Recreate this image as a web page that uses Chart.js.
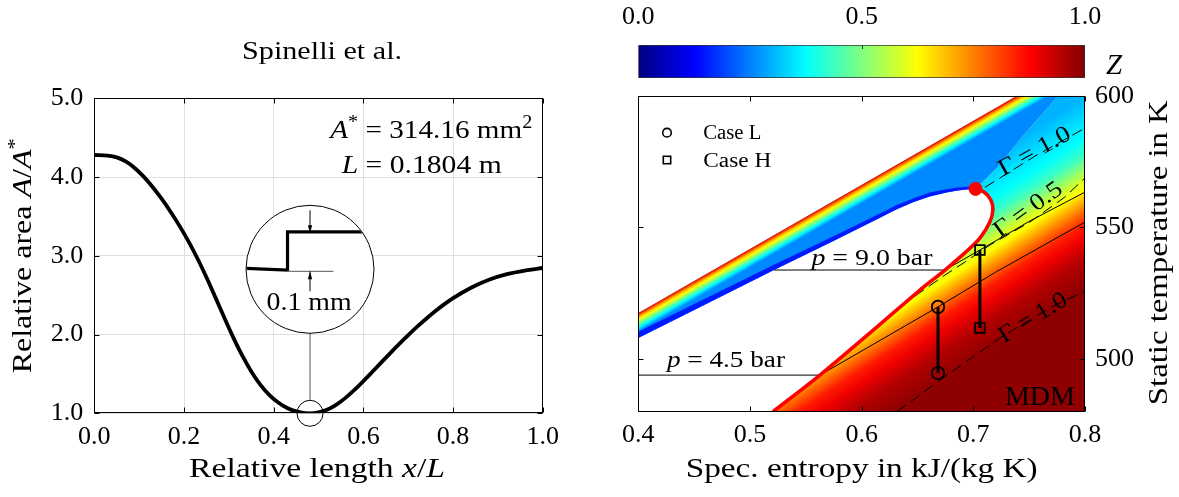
<!DOCTYPE html>
<html>
<head>
<meta charset="utf-8">
<script src="https://cdn.jsdelivr.net/npm/chart.js@4.4.1/dist/chart.umd.min.js"></script>
<style>
  html, body { margin: 0; padding: 0; background: #fff; }
  #wrap { position: relative; width: 1179px; height: 497px; overflow: hidden; }
  canvas { position: absolute; top: 0; }
  #nozzle { left: 0; }
  #ts, #cbar { left: 590px; }
</style>
</head>
<body>
<div id="wrap">
  <canvas id="nozzle" width="590" height="497"></canvas>
  <canvas id="ts" width="589" height="497"></canvas>
  <canvas id="cbar" width="589" height="90"></canvas>
</div>
<script>
/* ── Left panel: nozzle area ratio ── */
const lengthRatio = [0, 0.03, 0.05, 0.07, 0.09, 0.11, 0.13, 0.15, 0.17, 0.19, 0.21, 0.23, 0.25, 0.27,
  0.29, 0.31, 0.33, 0.35, 0.37, 0.39, 0.41, 0.43, 0.45, 0.47, 0.48, 0.50, 0.52, 0.54, 0.56, 0.58,
  0.60, 0.62, 0.64, 0.66, 0.68, 0.70, 0.72, 0.74, 0.76, 0.78, 0.80, 0.84, 0.88, 0.92, 0.96, 1.0];
const areaRatio = [4.28, 4.273, 4.25, 4.198, 4.115, 4.005, 3.874, 3.725, 3.56, 3.38, 3.183, 2.966, 2.728, 2.472,
  2.212, 1.961, 1.731, 1.532, 1.365, 1.234, 1.136, 1.067, 1.024, 1.002, 1.0, 1.012, 1.048, 1.111, 1.196, 1.297,
  1.409, 1.527, 1.647, 1.765, 1.881, 1.993, 2.1, 2.201, 2.296, 2.383, 2.462, 2.595, 2.696, 2.767, 2.813, 2.845];
const lengthTicks = [0, 0.2, 0.4, 0.6, 0.8, 1.0];
const areaTicks = [1, 2, 3, 4, 5];
const throatPoint = [0.481, 1.0];

/* ── Right panel: T-s diagram of MDM ── */
const entropyRange = [0.4, 0.8];
const tempRange = [480, 600];
const entropyTicks = [0.4, 0.5, 0.6, 0.7, 0.8];
const tempTicks = [500, 550, 600];
const zTicks = [0, 0.5, 1];
const zRange = [0, 1];

const satLiqS = [0.4, 0.455, 0.5215, 0.572, 0.616, 0.631, 0.646, 0.661, 0.676, 0.686, 0.694, 0.702];
const satLiqT = [508.0, 519.7, 533.8, 544.3, 553.6, 556.8, 559.5, 561.7, 563.2, 564.0, 564.4, 564.6];
const liqEdgeS = [0.702, 0.694, 0.686, 0.676, 0.661, 0.646, 0.631, 0.616, 0.572, 0.5215, 0.455, 0.4];
const liqEdgeT = [565.4, 565.4, 565.1, 564.5, 563.2, 561.0, 558.4, 555.2, 546.1, 535.8, 521.9, 510.4];
const satVapS = [0.5206, 0.5627, 0.6146, 0.6522, 0.6746, 0.6924, 0.7059, 0.7148, 0.7175, 0.7157, 0.7095, 0.702];
const satVapT = [480, 493.9, 512.5, 526.2, 533.8, 540.3, 545.9, 552.0, 556.6, 560.4, 563.4, 564.6];
const critPoint = [0.702, 564.6];
const ridgeS = [0.702, 0.722, 0.745, 0.770, 0.776];
const ridgeT = [564.6, 573.0, 585.0, 597.0, 600.0];
const boundS = [0.4, 0.739];
const boundT = [517.5, 600];

const iso90S = [0.5215, 0.6746, 0.7059, 0.7506, 0.8];
const iso90T = [533.8, 533.8, 541.4, 552.4, 563.4];
const iso45S = [0.4, 0.5627, 0.6684, 0.72, 0.8];
const iso45T = [493.9, 493.9, 519.8, 533.0, 552.0];

const gam10aS = [0.7104, 0.755, 0.8];
const gam10aT = [565.2, 577.0, 587.7];
const gam05S = [0.6477, 0.6746, 0.6924, 0.7148, 0.7506, 0.7819, 0.8];
const gam05T = [523.9, 531.9, 536.8, 543.3, 552.0, 561.5, 568.8];
const gam10bS = [0.6316, 0.6764, 0.7238, 0.7685, 0.8];
const gam10bT = [480, 493.9, 508.0, 519.4, 525.8];

const caseLS = [0.6684, 0.6684];
const caseLT = [519.8, 494.7];
const caseHS = [0.7059, 0.7059];
const caseHT = [541.4, 511.8];

// Z levels read along the right edge (s = 0.8) and along the left edge (s = 0.4)
const vapourZ = [0.30, 0.35, 0.375, 0.43, 0.5, 0.58, 0.625, 0.70, 0.78, 0.85, 0.89, 0.95, 0.985];
const vapourEdgeT = [600, 590, 584, 578, 573.5, 568.5, 564.5, 560.5, 555.5, 551, 546, 538, 527];
const liquidZ = [0.93, 0.8, 0.7, 0.625, 0.5, 0.375, 0.26];
const liquidEdgeT = [517.5, 516.7, 515.9, 515.0, 513.5, 512.0, 510.4];

/* ── helpers ── */
const FONT = '"Liberation Serif", "Times New Roman", serif';
Chart.defaults.font.family = FONT;
Chart.defaults.color = '#000';

function jet(z) {
  const c = v => Math.max(0, Math.min(1, v));
  const r = c(Math.min(4 * z - 1.5, -4 * z + 4.5));
  const g = c(Math.min(4 * z - 0.5, -4 * z + 3.5));
  const b = c(Math.min(4 * z + 0.5, -4 * z + 2.5));
  return `rgb(${Math.round(r * 255)},${Math.round(g * 255)},${Math.round(b * 255)})`;
}

const pts = (s, t) => s.map((v, i) => ({ x: v, y: t[i] }));

// parts: [text, flags]  flags: i = italic, s = superscript
function label(ctx, parts, x, y, o = {}) {
  const size = o.size || 26;
  const font = p => `${p[1].includes('i') ? 'italic ' : ''}${p[1].includes('s') ? Math.round(size * 0.7) : size}px ${FONT}`;
  ctx.save();
  ctx.translate(x, y);
  if (o.rot) ctx.rotate(o.rot);
  let w = 0;
  parts.forEach(p => { ctx.font = font(p); w += ctx.measureText(p[0]).width; });
  if (o.width) ctx.scale(o.width / w, 1);
  let cx = o.align === 'left' ? 0 : o.align === 'right' ? -w : -w / 2;
  ctx.textAlign = 'left';
  ctx.textBaseline = o.baseline || 'alphabetic';
  ctx.fillStyle = '#000';
  parts.forEach(p => {
    ctx.font = font(p);
    ctx.fillText(p[0], cx, p[1].includes('s') ? -size * 0.38 : 0);
    cx += ctx.measureText(p[0]).width;
  });
  ctx.restore();
}

function frameAndTicks(chart, xt, yt, len) {
  const { ctx, chartArea: a, scales: { x, y } } = chart;
  const L = Math.round(a.left) + 0.5, R = Math.round(a.right) - 0.5;
  const T = Math.round(a.top) + 0.5, B = Math.round(a.bottom) - 0.5;
  ctx.save();
  ctx.strokeStyle = '#000';
  ctx.lineWidth = 1;
  ctx.beginPath();
  xt.forEach(v => {
    const p = Math.round(x.getPixelForValue(v)) + 0.5;
    ctx.moveTo(p, B); ctx.lineTo(p, B - len);
    ctx.moveTo(p, T); ctx.lineTo(p, T + len);
  });
  yt.forEach(v => {
    const p = Math.round(y.getPixelForValue(v)) + 0.5;
    ctx.moveTo(L, p); ctx.lineTo(L + len, p);
    ctx.moveTo(R, p); ctx.lineTo(R - len, p);
  });
  ctx.stroke();
  ctx.strokeRect(L, T, R - L, B - T);
  ctx.restore();
}

function fixTicks(values) {
  return scale => { scale.ticks = values.map(v => ({ value: v })); };
}

/* ── Left chart ── */
const insetPlugin = {
  id: 'inset',
  afterDraw(chart) {
    const { ctx, chartArea: a, scales: { x, y } } = chart;
    frameAndTicks(chart, lengthTicks, areaTicks, 5);

    const cx = x.getPixelForValue(throatPoint[0]);
    const cy = y.getPixelForValue(throatPoint[1]);
    const R = 64, bx = cx, by = cy - 144;
    ctx.save();
    ctx.strokeStyle = '#000';
    ctx.lineWidth = 1;
    ctx.beginPath(); ctx.arc(cx, cy, 13, 0, 2 * Math.PI); ctx.stroke();
    ctx.strokeStyle = '#555';
    ctx.beginPath(); ctx.moveTo(cx, cy - 13); ctx.lineTo(bx, by + R); ctx.stroke();
    ctx.fillStyle = '#fff';
    ctx.beginPath(); ctx.arc(bx, by, R, 0, 2 * Math.PI); ctx.fill();
    ctx.strokeStyle = '#000';
    ctx.stroke();

    ctx.save();
    ctx.beginPath(); ctx.arc(bx, by, R - 0.5, 0, 2 * Math.PI); ctx.clip();
    ctx.lineWidth = 3.2;
    ctx.beginPath();
    ctx.moveTo(bx - R - 2, by - 1);
    ctx.lineTo(bx - 22.5, by + 0.8);
    ctx.lineTo(bx - 22.5, by - 37.5);
    ctx.lineTo(bx + R + 2, by - 37.5);
    ctx.stroke();
    ctx.restore();

    ctx.strokeStyle = '#777';
    ctx.lineWidth = 1.2;
    ctx.beginPath(); ctx.moveTo(bx - 22.5, by + 2); ctx.lineTo(bx + 23.5, by + 2); ctx.stroke();

    // dimension arrows
    ctx.strokeStyle = '#000';
    ctx.fillStyle = '#000';
    ctx.lineWidth = 1;
    ctx.beginPath();
    ctx.moveTo(bx, by - 59); ctx.lineTo(bx, by - 38);
    ctx.moveTo(bx, by + 22); ctx.lineTo(bx, by + 2);
    ctx.stroke();
    ctx.beginPath();
    ctx.moveTo(bx, by - 36.5); ctx.lineTo(bx - 2.2, by - 44); ctx.lineTo(bx + 2.2, by - 44); ctx.closePath();
    ctx.moveTo(bx, by + 2.5); ctx.lineTo(bx - 2.2, by + 10); ctx.lineTo(bx + 2.2, by + 10); ctx.closePath();
    ctx.fill();
    ctx.restore();

    label(ctx, [['0.1 mm', '']], bx - 1, by + 41, { size: 26, width: 85 });

    // texts
    label(ctx, [['Spinelli et al.', '']], (a.left + a.right) / 2 + 3.5, a.top - 39, { size: 25, width: 160 });
    label(ctx, [['A', 'i'], ['*', 's'], [' = 314.16 mm', ''], ['2', 's']], a.left + 236, a.top + 39.7, { size: 26, width: 202, align: 'left' });
    label(ctx, [['L', 'i'], [' = 0.1804 m', '']], a.left + 247.4, a.top + 74.7, { size: 26, width: 160, align: 'left' });
    label(ctx, [['Relative length ', ''], ['x', 'i'], ['/', ''], ['L', 'i']], (a.left + a.right) / 2 - 1.5, a.bottom + 64, { size: 27, width: 256 });
    label(ctx, [['Relative area ', ''], ['A', 'i'], ['/', ''], ['A', 'i'], ['*', 's']], 31, (a.top + a.bottom) / 2, { size: 27, width: 235, rot: -Math.PI / 2 });
  }
};

new Chart(document.getElementById('nozzle'), {
  type: 'line',
  data: {
    datasets: [{
      data: pts(lengthRatio, areaRatio),
      borderColor: '#000',
      borderWidth: 3.8,
      pointRadius: 0,
      cubicInterpolationMode: 'monotone',
      fill: false
    }]
  },
  options: {
    responsive: false,
    devicePixelRatio: 1,
    animation: false,
    layout: { padding: { top: 98.3, right: 47.2, left: 0, bottom: 0 } },
    plugins: { legend: { display: false }, tooltip: { enabled: false } },
    scales: {
      x: {
        type: 'linear', min: 0, max: 1,
        afterBuildTicks: fixTicks(lengthTicks),
        afterFit: s => { s.height = 83.7; },
        grid: { color: '#e0e0e0', drawTicks: false },
        border: { display: false },
        ticks: { font: { size: 26 }, padding: 8, callback: v => v.toFixed(1) }
      },
      y: {
        min: 1, max: 5,
        afterBuildTicks: fixTicks(areaTicks),
        afterFit: s => { s.width = 94.3; },
        grid: { color: '#e0e0e0', drawTicks: false },
        border: { display: false },
        ticks: { font: { size: 26 }, padding: 11, callback: v => v.toFixed(1) }
      }
    }
  },
  plugins: [insetPlugin]
});

/* ── Right chart: coloured Z field ── */
const vapourSlope = 0.65;   // pixel slope of the vapour-side Z contours

function vapourFill(chart) {
  const { chartArea, scales: { x, y } } = chart;
  if (!chartArea) return 'transparent';
  const xr = x.getPixelForValue(entropyRange[1]);
  const ys = vapourEdgeT.map(t => y.getPixelForValue(t));
  const span = ys[ys.length - 1] - ys[0];
  const k = 1 + vapourSlope * vapourSlope;
  const g = chart.ctx.createLinearGradient(xr, ys[0], xr + vapourSlope * span / k, ys[0] + span / k);
  ys.forEach((v, i) => g.addColorStop((v - ys[0]) / span, jet(vapourZ[i])));
  return g;
}

function liquidFill(chart) {
  const { chartArea, scales: { x, y } } = chart;
  if (!chartArea) return 'transparent';
  const ax = x.getPixelForValue(boundS[0]), ay = y.getPixelForValue(boundT[0]);
  const bx = x.getPixelForValue(boundS[1]), by = y.getPixelForValue(boundT[1]);
  const len = Math.hypot(bx - ax, by - ay);
  const nx = -(by - ay) / len, ny = (bx - ax) / len;
  const xl = x.getPixelForValue(entropyRange[0]);
  const ts = liquidEdgeT.map(t => (xl - ax) * nx + (y.getPixelForValue(t) - ay) * ny);
  const t0 = ts[0], t1 = ts[ts.length - 1];
  const g = chart.ctx.createLinearGradient(ax + nx * t0, ay + ny * t0, ax + nx * t1, ay + ny * t1);
  ts.forEach((t, i) => g.addColorStop((t - t0) / (t1 - t0), jet(liquidZ[i])));
  return g;
}

const shape = { fill: 'shape', borderWidth: 0, borderColor: 'transparent', pointRadius: 0, clip: false, tension: 0 };
const thin = { borderColor: '#000', borderWidth: 1, pointRadius: 0, fill: false, tension: 0 };
const dashed = { ...thin, borderDash: [11, 6] };

const tsPlugin = {
  id: 'tsDecor',
  afterDraw(chart) {
    const { ctx, chartArea: a, scales: { x, y } } = chart;
    frameAndTicks(chart, entropyTicks, tempTicks, 5);
    const P = (s, t) => [x.getPixelForValue(s), y.getPixelForValue(t)];

    let p = P(0.6092, 535.7);
    label(ctx, [['p', 'i'], [' = 9.0 bar', '']], p[0], p[1], { size: 24, width: 121 });
    p = P(0.4785, 497.0);
    label(ctx, [['p', 'i'], [' = 4.5 bar', '']], p[0], p[1], { size: 24, width: 118 });
    p = P(0.7596, 482.5);
    label(ctx, [['MDM', '']], p[0], p[1], { size: 27, width: 70 });
    p = P(0.755, 578.7);
    label(ctx, [['Γ = 1.0', '']], p[0], p[1], { size: 24, width: 79, rot: -29 * Math.PI / 180, baseline: 'middle' });
    p = P(0.7492, 556.6);
    label(ctx, [['Γ = 0.5', '']], p[0], p[1], { size: 24, width: 79, rot: -36 * Math.PI / 180, baseline: 'middle' });
    p = P(0.7536, 515.5);
    label(ctx, [['Γ = 1.0', '']], p[0], p[1], { size: 24, width: 76, rot: -31.5 * Math.PI / 180, baseline: 'middle' });

    // legend
    ctx.save();
    ctx.strokeStyle = '#000';
    ctx.lineWidth = 1.6;
    ctx.beginPath(); ctx.arc(a.left + 28.7, a.top + 37, 4.3, 0, 2 * Math.PI); ctx.stroke();
    ctx.strokeRect(a.left + 28.7 - 3.7, a.top + 64.3 - 3.7, 7.4, 7.4);
    ctx.restore();
    label(ctx, [['Case L', '']], a.left + 65, a.top + 43.5, { size: 20, width: 58, align: 'left' });
    label(ctx, [['Case H', '']], a.left + 65, a.top + 71, { size: 20, width: 68, align: 'left' });

    label(ctx, [['Spec. entropy in kJ/(kg K)', '']], (a.left + a.right) / 2, a.bottom + 65.3, { size: 27, width: 352 });
    label(ctx, [['Static temperature in K', '']], a.right + 82, (a.top + a.bottom) / 2 - 1, { size: 27, width: 305, rot: -Math.PI / 2 });
  }
};

new Chart(document.getElementById('ts'), {
  type: 'line',
  data: {
    datasets: [
      { ...shape, order: 20, backgroundColor: c => vapourFill(c.chart),
        data: pts([...satVapS, ...ridgeS.slice(1), entropyRange[1], entropyRange[1]],
                  [...satVapT, ...ridgeT.slice(1), tempRange[1], tempRange[0]]) },
      { ...shape, order: 19, backgroundColor: c => liquidFill(c.chart),
        data: pts([...satLiqS, ...ridgeS.slice(1), boundS[1], boundS[0]],
                  [...satLiqT, ...ridgeT.slice(1), boundT[1], boundT[0]]) },
      { ...shape, order: 18, backgroundColor: 'rgb(0,25,255)',
        data: pts([...satLiqS, ...liqEdgeS], [...satLiqT, ...liqEdgeT]) },
      { ...thin, order: 10, data: pts(iso90S, iso90T) },
      { ...thin, order: 10, data: pts(iso45S, iso45T) },
      { ...dashed, order: 9, data: pts(gam10aS, gam10aT) },
      { ...dashed, order: 9, data: pts(gam05S, gam05T) },
      { ...dashed, order: 9, data: pts(gam10bS, gam10bT) },
      { order: 5, data: pts(satVapS, satVapT), borderColor: '#ff0000', borderWidth: 3.6,
        pointRadius: 0, fill: false, tension: 0.3 },
      { order: 3, data: pts(caseLS, caseLT), borderColor: '#000', borderWidth: 3, fill: false,
        pointStyle: 'circle', pointRadius: 6.2, pointBorderWidth: 1.8,
        pointBorderColor: '#000', pointBackgroundColor: 'rgba(0,0,0,0)' },
      { order: 3, data: pts(caseHS, caseHT), borderColor: '#000', borderWidth: 3, fill: false,
        pointStyle: 'rect', pointRadius: 6.8, pointBorderWidth: 1.8,
        pointBorderColor: '#000', pointBackgroundColor: 'rgba(0,0,0,0)' },
      { order: 1, data: pts([critPoint[0]], [critPoint[1]]), showLine: false,
        pointRadius: 6.5, pointBackgroundColor: '#ff0000', pointBorderColor: '#ff0000' }
    ]
  },
  options: {
    responsive: false,
    devicePixelRatio: 1,
    animation: false,
    layout: { padding: { top: 95.7, left: 48.3, right: 0, bottom: 0 } },
    plugins: { legend: { display: false }, tooltip: { enabled: false } },
    scales: {
      x: {
        type: 'linear', min: entropyRange[0], max: entropyRange[1],
        afterBuildTicks: fixTicks(entropyTicks),
        afterFit: s => { s.height = 85.3; },
        grid: { display: false, drawTicks: false },
        border: { display: false },
        ticks: { font: { size: 26 }, padding: 8, callback: v => v.toFixed(1) }
      },
      y: {
        position: 'right', min: tempRange[0], max: tempRange[1],
        afterBuildTicks: fixTicks(tempTicks),
        afterFit: s => { s.width = 94; },
        grid: { display: false, drawTicks: false },
        border: { display: false },
        ticks: { font: { size: 26 }, padding: 10 }
      }
    }
  },
  plugins: [tsPlugin]
});

/* ── Colour bar ── */
const cbarPlugin = {
  id: 'cbarDecor',
  afterDraw(chart) {
    const { ctx, chartArea: a, scales: { x } } = chart;
    ctx.save();
    ctx.strokeStyle = '#333';
    ctx.lineWidth = 1;
    const m = Math.round(x.getPixelForValue(zTicks[1])) + 0.5;
    ctx.beginPath(); ctx.moveTo(m, a.top); ctx.lineTo(m, a.top + 4); ctx.stroke();
    ctx.restore();
    label(ctx, [['Z', 'i']], a.right + 21, a.bottom - 4, { size: 29, align: 'left' });
  }
};

new Chart(document.getElementById('cbar'), {
  type: 'bar',
  data: {
    labels: ['Z'],
    datasets: [{
      data: [zRange],
      backgroundColor: c => {
        const { chartArea, scales: { x } } = c.chart;
        if (!chartArea) return 'transparent';
        const x0 = x.getPixelForValue(zRange[0]), x1 = x.getPixelForValue(zRange[1]);
        const g = c.chart.ctx.createLinearGradient(x0, 0, x1, 0);
        [0, 0.125, 0.375, 0.625, 0.875, 1].forEach(z => g.addColorStop(z, jet(z)));
        return g;
      },
      borderColor: '#333',
      borderWidth: 1,
      borderSkipped: false,
      barPercentage: 1,
      categoryPercentage: 1
    }]
  },
  options: {
    indexAxis: 'y',
    responsive: false,
    devicePixelRatio: 1,
    animation: false,
    layout: { padding: { top: 0, left: 48.3, right: 94, bottom: 12 } },
    plugins: { legend: { display: false }, tooltip: { enabled: false } },
    scales: {
      x: {
        type: 'linear', position: 'top', min: zRange[0], max: zRange[1],
        afterBuildTicks: fixTicks(zTicks),
        afterFit: s => { s.height = 45; },
        grid: { display: false, drawTicks: false },
        border: { display: false },
        ticks: { font: { size: 26 }, padding: 12.4, callback: v => v.toFixed(1) }
      },
      y: { display: false }
    }
  },
  plugins: [cbarPlugin]
});
</script>
</body>
</html>
